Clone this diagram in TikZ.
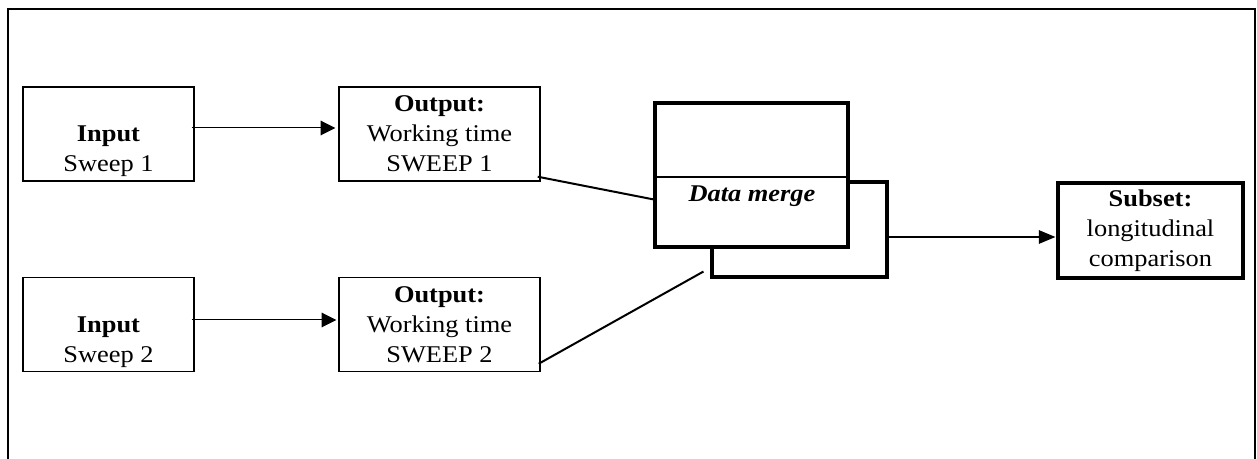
\documentclass[tikz,border=0pt]{standalone}
\usepackage{fontspec}
\setmainfont{Liberation Serif}[FakeStretch=1.1]
\usetikzlibrary{arrows.meta}

\begin{document}
\begin{tikzpicture}[x=0.75pt,y=-0.75pt,
  txt/.style={font=\fontsize{18}{22.5}\selectfont},
  box/.style={draw, line width=1.1pt, inner sep=0pt, align=center, txt},
  heavybox/.style={draw, line width=2.3pt, inner sep=0pt, align=center, txt},
  thinarrow/.style={line width=0.75pt, -{Triangle[length=11pt,width=11pt]}},
  heavyarrow/.style={line width=1.5pt, -{Triangle[length=12.5pt,width=10pt]}},
  link/.style={line width=1.5pt}]

\useasboundingbox (0,0) rectangle (1257,459);

% open frame: left, top and right sides
\draw[line width=1.5pt] (8,459) -- (8,9) -- (1255,9) -- (1255,459);

% sources (text sits on the lower two of three lines)
\node[box, minimum width=128.25pt, minimum height=70.5pt] (in1) at (108.5,134)
  {\strut\\\textbf{Input}\\Sweep 1};
\node[box, minimum width=128.25pt, minimum height=70.5pt] (in2) at (108.5,324.5)
  {\strut\\\textbf{Input}\\Sweep 2};

% outputs
\node[box, minimum width=150.75pt, minimum height=70.5pt] (out1) at (439.5,134)
  {\textbf{Output:}\\Working time\\SWEEP 1};
\node[box, minimum width=150.75pt, minimum height=70.5pt] (out2) at (439.5,324.5)
  {\textbf{Output:}\\Working time\\SWEEP 2};

% merge block with its offset shadow
\node[heavybox, minimum width=131.25pt, minimum height=71.25pt] (mergeshadow) at (799.5,229.5) {};
\node[heavybox, fill=white, minimum width=144.75pt, minimum height=108pt] (merge) at (751.5,175) {};
\coordinate (split) at (0,177);
\draw[line width=1pt] (merge.west |- split) -- (merge.east |- split);
\node[txt, anchor=base] (mergelabel) at (752,201.5) {\textbf{\textit{Data merge}}};

% result
\node[heavybox, minimum width=138.75pt, minimum height=71.25pt] (subset) at (1150.5,230.5)
  {\textbf{Subset:}\\longitudinal\\comparison};

% connectors
\draw[thinarrow] ([shift={(-3,-6)}]in1.east) -- ([shift={(-3,-6)}]out1.west);
\draw[thinarrow] ([shift={(-3,-4.5)}]in2.east) -- ([shift={(-2,-4.5)}]out2.west);
\draw[link] ([shift={(-3,-5)}]out1.south east) -- ([shift={(3,25)}]merge.west);
\draw[link] ([shift={(-2,-8.5)}]out2.south east) -- ([shift={(-7,-7)}]mergeshadow.south west);
\draw[heavyarrow] ([shift={(0,7.5)}]mergeshadow.east) -- ([shift={(-1,6.5)}]subset.west);

\end{tikzpicture}
\end{document}
